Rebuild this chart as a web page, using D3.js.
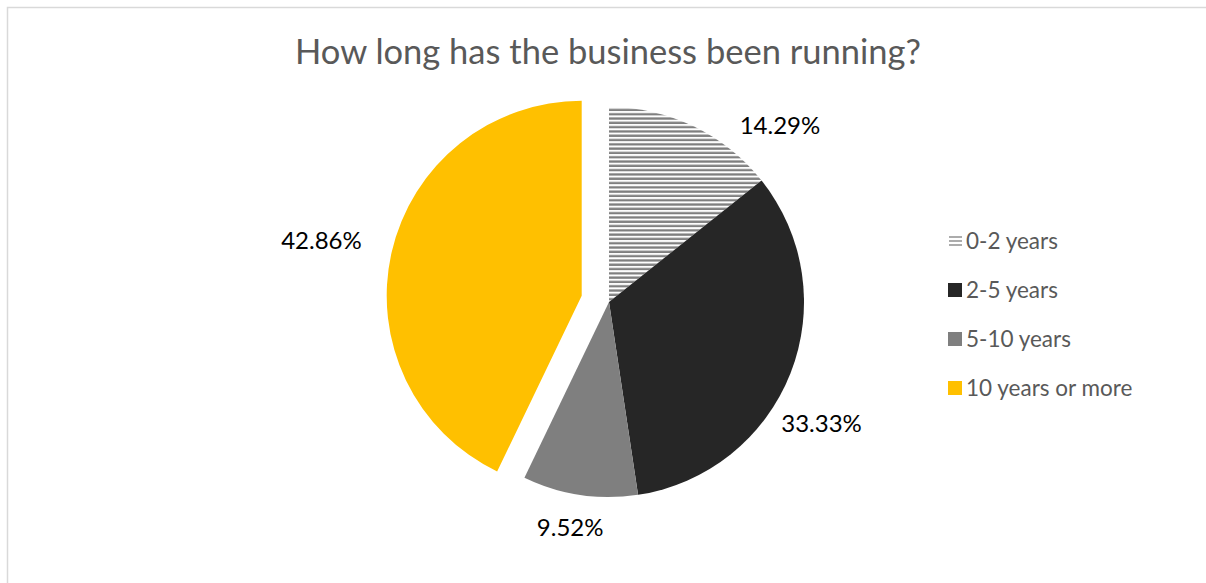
<!DOCTYPE html>
<html>
<head>
<meta charset="utf-8">
<script src="https://cdn.jsdelivr.net/npm/d3@7"></script>
<style>
  body { margin: 0; background: #fff; }
  text { font-family: Lato, "Liberation Sans", sans-serif; }
</style>
</head>
<body>
<div id="chart"></div>
<script>
// chart data
const categories = ["0-2 years", "2-5 years", "5-10 years", "10 years or more"];
const shares = [14.29, 33.33, 9.52, 42.86];
const labelText = ["14.29%", "33.33%", "9.52%", "42.86%"];
const fills = ["url(#hatch)", "#262626", "#7f7f7f", "#ffc000"];
const exploded = [0, 0, 0, 28];      // slice pull-out, px
const labelNudge = [18.3, 8.4, 1.2, -0.9];   // degrees, like Excel "best fit"
const labelDist = [246, 245, 229, 266];

const W = 1206, H = 583;
const cx = 609, cy = 302, R = 195;

const svg = d3.select("#chart").append("svg")
    .attr("width", W)
    .attr("height", H);

// hatch for the first slice
const pat = svg.append("defs").append("pattern")
    .attr("id", "hatch")
    .attr("patternUnits", "userSpaceOnUse")
    .attr("width", 8)
    .attr("height", 4.3);
pat.append("rect").attr("width", 8).attr("height", 4.3).attr("fill", "#fff");
pat.append("rect").attr("y", 0.3).attr("width", 8).attr("height", 2.3).attr("fill", "#7f7f7f");

// chart area border
svg.append("rect")
    .attr("x", 7.5).attr("y", 7.5)
    .attr("width", W + 20).attr("height", H + 20)
    .attr("fill", "none")
    .attr("stroke", "#d9d9d9")
    .attr("stroke-width", 1.5);

svg.append("text")
    .attr("x", 608)
    .attr("y", 64)
    .attr("text-anchor", "middle")
    .attr("fill", "#595959")
    .style("font-size", "34.5px")
    .text("How long has the business been running?");

const pie = d3.pie().sort(null).value(d => d);
const arcs = pie(shares);
const arc = d3.arc().innerRadius(0).outerRadius(R);

const g = svg.append("g").attr("transform", "translate(" + cx + "," + cy + ")");

function offset(d, i, dist) {
    const a = (d.startAngle + d.endAngle) / 2;
    return [Math.sin(a) * dist, -Math.cos(a) * dist];
}

g.selectAll("path.slice")
    .data(arcs)
    .enter().append("path")
    .attr("class", "slice")
    .attr("d", arc)
    .attr("fill", (d, i) => fills[i])
    .attr("transform", (d, i) => {
        const o = offset(d, i, exploded[i]);
        return "translate(" + o[0] + "," + o[1] + ")";
    });

// data labels outside the pie
function labelPos(d, i) {
    const a = (d.startAngle + d.endAngle) / 2 + labelNudge[i] * Math.PI / 180;
    const o = offset(d, i, exploded[i]);
    return [o[0] + Math.sin(a) * labelDist[i], o[1] - Math.cos(a) * labelDist[i]];
}

g.selectAll("text.lbl")
    .data(arcs)
    .enter().append("text")
    .attr("class", "lbl")
    .attr("text-anchor", "middle")
    .attr("dy", "0.35em")
    .attr("fill", "#000")
    .style("font-size", "24px")
    .attr("x", (d, i) => labelPos(d, i)[0])
    .attr("y", (d, i) => labelPos(d, i)[1])
    .text((d, i) => labelText[i]);

// legend
const ly = d3.scalePoint().domain(categories).range([241, 388]);
const leg = svg.append("g").selectAll("g")
    .data(categories)
    .enter().append("g")
    .attr("transform", d => "translate(948," + ly(d) + ")");

leg.filter((d, i) => i > 0).append("rect")
    .attr("x", 0).attr("y", -7)
    .attr("width", 14).attr("height", 14)
    .attr("fill", (d, i) => fills[i + 1]);

leg.filter((d, i) => i === 0).selectAll("line")
    .data([-4, 0, 4])
    .enter().append("line")
    .attr("x1", 1).attr("x2", 14)
    .attr("y1", d => d).attr("y2", d => d)
    .attr("stroke", "#7f7f7f")
    .attr("stroke-width", 1.3);

leg.append("text")
    .attr("x", 18)
    .attr("dy", "0.35em")
    .attr("fill", "#595959")
    .style("font-size", "22.5px")
    .text(d => d);
</script>
</body>
</html>
